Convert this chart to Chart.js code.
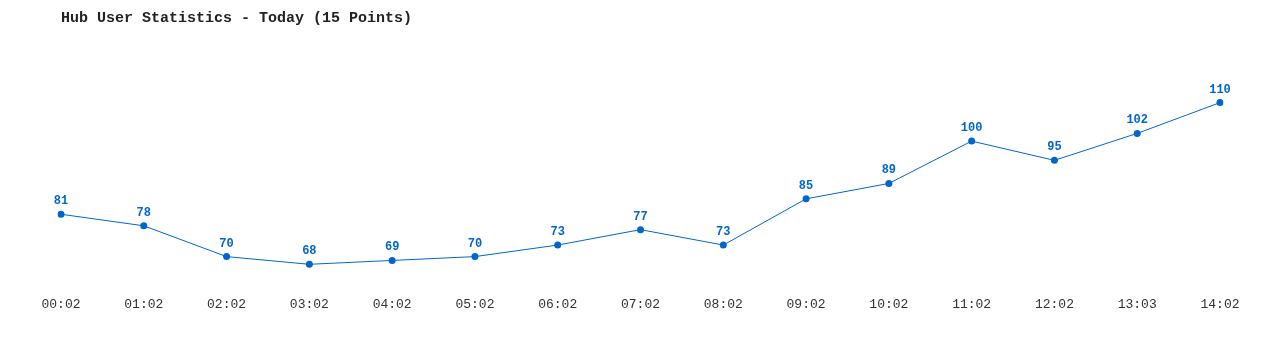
<!DOCTYPE html>
<html><head><meta charset="utf-8">
<script src="https://cdn.jsdelivr.net/npm/chart.js@4/dist/chart.umd.min.js"></script>
<style>html,body{margin:0;padding:0;background:#fff}#wrap{width:1280px;height:350px}</style>
</head><body><div id="wrap"><canvas id="c" width="1280" height="350"></canvas></div>
<script>
const categories = ["00:02","01:02","02:02","03:02","04:02","05:02","06:02","07:02","08:02","09:02","10:02","11:02","12:02","13:03","14:02"];
const users = [81,78,70,68,69,70,73,77,73,85,89,100,95,102,110];
const chartTitle = "Hub User Statistics - Today (15 Points)";
const FONT = "'Liberation Mono', 'DejaVu Sans Mono', monospace";
const BLUE = "#0066cc";

const valueLabels = {
  id: 'valueLabels',
  afterDatasetsDraw(chart) {
    const ctx = chart.ctx;
    const meta = chart.getDatasetMeta(0);
    ctx.save();
    ctx.font = "bold 12px " + FONT;
    ctx.fillStyle = BLUE;
    ctx.textAlign = 'center';
    ctx.textBaseline = 'middle';
    meta.data.forEach((pt, i) => {
      ctx.fillText(String(users[i]), pt.x, pt.y - 13);
    });
    ctx.restore();
  }
};

new Chart(document.getElementById('c'), {
  type: 'line',
  data: {
    labels: categories,
    datasets: [{
      data: users,
      borderColor: BLUE,
      backgroundColor: BLUE,
      borderWidth: 1,
      pointRadius: 3.5,
      pointHoverRadius: 3.5,
      pointBackgroundColor: BLUE,
      pointBorderWidth: 0,
      tension: 0,
      fill: false
    }]
  },
  options: {
    responsive: false,
    animation: false,
    devicePixelRatio: 1,
    layout: { padding: { left: 61, right: 60, top: 0, bottom: 37 } },
    plugins: {
      legend: { display: false },
      tooltip: { enabled: false },
      title: {
        display: true,
        text: chartTitle,
        align: 'start',
        color: '#222',
        font: { family: FONT, size: 15, weight: 'bold' },
        padding: { top: 9, bottom: 14 }
      }
    },
    scales: {
      x: {
        offset: false,
        grid: { display: false },
        border: { display: false },
        ticks: { color: '#333', font: { family: FONT, size: 13 }, padding: 1, maxRotation: 0, autoSkip: false }
      },
      y: {
        display: false,
        min: 62,
        max: 126
      }
    }
  },
  plugins: [valueLabels]
});
</script></body></html>
